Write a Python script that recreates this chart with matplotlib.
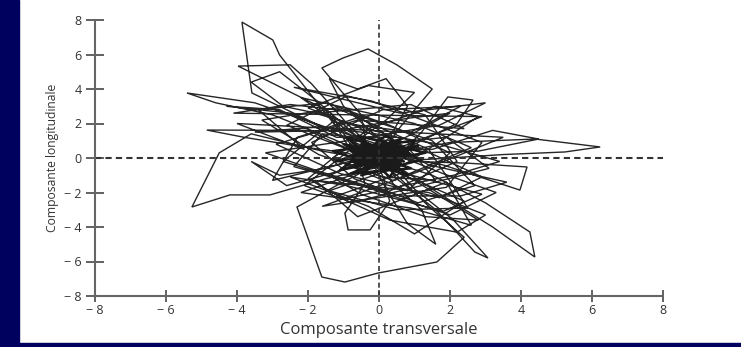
import numpy as np
import matplotlib.pyplot as plt
from matplotlib.patches import Rectangle

# trajectoire du centre de pression (composante transversale, longitudinale)
# grandes excursions
path_xy = [
    (0.0, 0.1), (-0.3, 0.4), (0.2, -0.2), (-0.1, 0.5), (0.3, 0.2), (-0.4, -0.1), (0.1, 0.3),
    (-1.2, 1.8), (-2.8, 5.97), (-2.99, 6.84), (-3.86, 7.88), (-3.58, 3.77), (-2.2, 2.4), (-0.8, 1.0),
    (-0.2, 0.2), (0.4, -0.3), (-0.5, 0.1), (0.2, 0.6), (-0.3, -0.4), (0.5, 0.3),
    (2.0, 0.9), (4.4, 1.1), (6.23, 0.64), (5.24, 0.35), (3.5, 0.2), (1.2, -0.1),
    (0.3, 0.4), (-0.4, 0.0), (0.1, -0.5), (-0.2, 0.3), (0.6, 0.1), (-0.6, -0.2),
    (-1.5, 2.8), (-3.97, 5.33), (-2.5, 5.4), (-1.9, 4.3), (-0.9, 2.0),
    (-0.1, 0.4), (0.3, -0.1), (-0.5, 0.5), (0.0, -0.3), (0.4, 0.5),
    (-1.8, 2.0), (-3.5, 3.2), (-5.41, 3.77), (-4.6, 3.2), (-3.0, 2.5), (-1.3, 1.1),
    (-0.4, 0.3), (0.2, 0.0), (-0.3, -0.3), (0.5, 0.4), (-0.1, 0.1), (0.3, -0.4),
    (-1.5, -1.2), (-3.07, -2.14), (-4.2, -2.14), (-5.27, -2.84), (-4.5, 0.3), (-3.6, 1.4), (-1.6, 0.4),
    (-0.5, 0.0), (0.1, 0.5), (-0.2, -0.2), (0.4, 0.2), (-0.6, 0.4), (0.2, -0.1),
    (-1.2, -1.6), (-2.31, -2.84), (-1.61, -6.9), (-0.96, -7.19), (-0.03, -6.67), (1.63, -6.03),
    (2.4, -4.6), (1.4, -2.8), (0.5, -1.0),
    (0.0, -0.2), (-0.4, 0.3), (0.3, 0.1), (-0.2, 0.5), (0.5, -0.3), (-0.3, 0.0),
    (-0.5, 2.5), (-1.61, 5.22), (-1.01, 5.8), (-0.31, 6.32), (0.51, 5.39), (1.5, 4.0), (0.6, 1.8),
    (0.1, 0.3), (-0.4, -0.2), (0.3, 0.5), (-0.1, -0.4), (0.4, 0.0), (-0.5, 0.3),
    (1.5, -1.0), (3.0, -2.6), (4.25, -4.29), (4.39, -5.74), (3.2, -4.0), (1.8, -2.2), (0.6, -0.6),
    (-0.2, 0.1), (0.3, 0.4), (-0.5, -0.1), (0.1, 0.2), (-0.3, 0.5), (0.4, -0.2),
    (1.2, 1.5), (1.94, 3.54), (2.65, 3.36), (2.2, 2.0), (1.0, 0.8),
    (0.2, 0.0), (-0.4, 0.4), (0.0, -0.3), (0.5, 0.3), (-0.2, -0.1),
    (-2.0, 1.6), (-4.85, 1.62), (-3.8, 1.2), (-2.0, 0.6), (-0.9, 0.3),
    (-0.3, -0.2), (0.2, 0.4), (-0.5, 0.2), (0.3, -0.3), (-0.1, 0.6), (0.4, 0.1),
    (1.8, -0.4), (3.97, -1.86), (4.17, -0.52), (2.5, -0.3), (1.0, -0.2),
    (0.1, 0.3), (-0.4, -0.3), (0.3, 0.2), (-0.2, 0.5), (0.5, -0.1), (-0.6, 0.1),
    (-0.4, -1.5), (-0.96, -3.19), (-0.87, -4.17), (-0.25, -4.17), (0.3, -2.5), (0.1, -1.0),
    (-0.3, 0.2), (0.4, 0.4), (-0.2, -0.3), (0.2, 0.3), (-0.5, 0.0), (0.3, -0.2),
    (1.0, -1.8), (2.1, -3.6), (3.07, -5.8), (2.7, -5.45), (1.6, -3.0), (0.5, -1.2),
    (0.0, 0.2), (-0.4, 0.5), (0.3, -0.1), (-0.2, 0.0), (0.4, 0.4), (-0.5, -0.2),
    (-1.3, 2.4), (-2.7, 3.0), (-3.6, 4.4), (-2.8, 5.0), (-1.8, 3.4), (-0.7, 1.4),
    (-0.1, 0.3), (0.3, 0.0), (-0.4, 0.2), (0.2, -0.4), (-0.2, 0.4), (0.5, 0.2),
    (-1.0, 3.0), (-1.4, 4.6), (-0.6, 4.0), (0.2, 4.6), (0.8, 3.0), (0.3, 1.2),
    (-0.2, 0.1), (0.4, -0.3), (-0.5, 0.4), (0.1, 0.0), (-0.3, -0.2), (0.3, 0.5),
    (-1.5, -0.6), (-2.8, -1.0), (-3.6, -0.2), (-2.6, -1.6), (-1.2, -0.8),
    (-0.3, 0.0), (0.2, 0.3), (-0.4, -0.1), (0.4, 0.2), (-0.1, -0.4), (0.1, 0.5),
    (1.5, 0.5), (3.2, 1.6), (4.5, 1.1), (2.8, 0.4), (1.2, 0.3),
    (0.3, -0.1), (-0.3, 0.3), (0.1, -0.3), (-0.5, 0.1), (0.2, 0.4), (-0.2, -0.2),
    (0.2, -1.8), (0.8, -3.8), (1.6, -5.0), (1.2, -3.0), (0.4, -1.5),
    (-0.1, 0.0), (0.3, 0.3), (-0.4, 0.4), (0.0, -0.2), (-0.3, 0.2), (0.4, -0.1),
    (-2.5, 2.6), (-4.3, 3.0), (-2.8, 2.8), (-1.2, 1.2),
]

# errance dans la zone intermédiaire
web_xy = [
    (0.5, 1.2), (-1.8, 2.6), (0.9, 3.1), (2.4, 1.7), (-0.6, 2.2), (-2.9, 0.8), (-1.1, -0.9),
    (1.7, -2.3), (2.9, -1.1), (0.8, 0.9), (-1.6, 1.4), (-2.4, -0.5), (0.2, -2.0), (2.2, -0.2),
    (1.3, 2.5), (-0.9, 3.6), (-2.6, 1.9), (-1.0, 0.6), (1.9, 1.2), (3.1, -0.6), (1.2, -1.6),
    (-0.8, -2.6), (-2.0, -1.2), (-0.3, 1.7), (1.6, 3.0), (2.8, 2.4), (0.7, -0.4), (-1.4, -1.9),
    (0.5, -3.0), (2.5, -2.9), (1.4, 0.5), (-1.2, 2.9), (-3.3, 2.2), (-1.7, 0.2), (0.4, -1.3),
    (2.6, 0.6), (1.0, 2.0), (-2.2, 3.5), (-0.4, 0.9), (1.8, -0.9), (3.3, -2.0), (2.0, -3.3),
    (-0.2, -1.8), (-2.7, -0.2), (-1.3, 2.1), (0.9, 1.5), (2.3, 3.0), (0.1, 2.8), (-1.9, 0.9),
    (-0.7, -1.2), (1.1, -2.6), (2.7, -1.6), (1.5, 1.0), (-0.5, 2.4), (-2.3, 1.2), (-3.0, -1.3),
    (-1.0, -0.3), (0.8, -1.9), (2.0, 0.3), (0.3, 1.9), (-1.5, 3.2), (-3.4, 2.8), (-2.1, 0.5),
    (-4.0, 2.0), (3.5, 1.2), (1.1, -0.8), (-1.6, -2.8), (1.9, -1.7), (2.9, 0.9), (-0.2, 3.3),
    (-2.4, 4.1), (0.6, 2.6), (3.0, 3.2), (1.7, 1.9), (-0.9, 1.0), (-3.2, 0.3), (-1.8, -0.7),
    (0.6, -2.2), (2.3, -2.2), (3.6, -1.4), (1.4, -0.4), (-0.6, 1.8), (-2.0, 2.9), (-0.3, 4.2),
    (1.0, 3.8), (0.2, 2.2), (-1.3, 0.0), (0.1, -1.1), (1.6, -1.3), (0.9, 0.4), (-0.8, 2.7),
    (-2.5, 3.1), (-4.1, 2.6), (2.9, 2.4), (1.2, 1.1), (-1.4, -1.0), (-0.5, -2.1), (1.3, -3.4),
    (2.8, -3.6), (1.0, -1.3), (-0.8, 0.5), (-2.1, -1.6), (-1.0, -2.4), (0.7, -1.6), (2.1, -1.0),
    (3.4, -0.2), (1.7, 0.8), (-0.1, 1.4), (-1.7, 1.8), (-3.5, 1.5), (-1.1, 1.6), (0.8, 2.3),
    (2.0, 2.6), (0.4, 0.8),
]

# partie basse
lower_xy = [
    (-0.5, -0.8), (-2.2, -2.0), (0.9, -2.9), (2.6, -3.9), (1.9, -1.4), (-0.6, -3.4), (-1.8, -1.3),
    (1.4, -2.0), (3.0, -3.3), (2.2, -4.3), (0.3, -3.6), (-1.2, -2.2), (0.6, -0.9), (2.4, -2.5),
    (1.0, -4.4), (-0.3, -2.8), (-2.5, -1.1), (-0.9, -1.6), (1.8, -3.1), (2.9, -2.1), (0.2, -0.6),
]

# amas central
core_xy = [
    (-0.1, 0.2), (0.2, -0.1), (-0.3, 0.4), (0.1, 0.5), (-0.4, 0.0), (0.3, 0.3), (-0.2, -0.3),
    (0.4, 0.1), (-0.5, 0.3), (0.0, -0.1), (0.2, 0.6), (-0.3, -0.1), (0.3, -0.3), (-0.1, 0.4),
    (-0.6, 0.1), (0.1, 0.0), (0.4, 0.4), (-0.2, 0.6), (-0.4, -0.3), (0.2, 0.2), (-0.1, -0.4),
    (0.3, 0.5), (-0.5, 0.5), (0.0, 0.3), (0.5, -0.1), (-0.3, 0.2), (0.1, -0.3), (-0.2, 0.0),
    (0.3, 0.1), (-0.6, -0.1), (-0.1, 0.6), (0.4, -0.2), (-0.4, 0.4), (0.2, 0.3), (-0.2, -0.2),
    (0.0, 0.5), (0.5, 0.3), (-0.5, 0.0), (0.1, 0.1), (-0.3, 0.5), (0.3, -0.1), (-0.1, -0.2),
    (0.2, 0.4), (-0.4, 0.2), (0.0, 0.0), (0.4, 0.5), (-0.2, 0.3), (0.1, -0.4), (-0.5, -0.2),
    (0.3, 0.2), (-0.7, 0.3), (0.6, 0.2), (-0.1, 0.7), (0.2, -0.5), (-0.6, 0.5), (0.5, -0.4),
    (-0.3, -0.5), (0.4, 0.7), (-0.8, 0.0), (0.7, 0.0), (-1.0, 0.8), (0.9, -0.6), (-0.8, -0.9),
    (1.1, 0.7), (-1.2, -0.2), (0.6, 1.1), (-0.5, -1.0), (1.2, -0.1), (-0.9, 1.2), (0.3, -1.1),
    (1.0, 1.0), (-1.3, 0.4), (0.8, -1.0), (-0.6, 1.3), (1.3, 0.3), (-1.1, -0.7), (0.2, 1.3),
    (0.9, 0.2), (-0.7, -0.4), (-0.2, 0.1), (0.1, 0.4), (-0.4, -0.1), (0.3, 0.0), (-0.1, 0.3),
    (0.2, -0.2), (-0.3, 0.1), (0.0, 0.4), (-0.2, 0.2),
    (-0.7, 0.6), (0.5, 0.7), (-0.6, -0.4), (0.6, -0.3), (-0.8, 0.4), (0.3, 0.8), (-0.4, -0.6),
    (0.7, 0.4), (-0.5, 0.8), (0.4, -0.5), (-0.8, -0.2), (0.1, 0.8), (0.6, 0.6), (-0.7, -0.1),
    (0.2, -0.6), (-0.3, 0.7), (0.7, -0.2), (-0.6, 0.2), (0.5, 0.0), (-0.2, -0.5), (0.0, 0.7),
    (-0.7, 0.0), (0.4, 0.3), (-0.4, 0.6), (0.6, -0.1), (-0.5, -0.4), (0.2, 0.5), (-0.1, -0.3),
    (0.3, 0.6), (-0.6, 0.3), (0.5, -0.2), (-0.3, -0.1), (0.1, 0.6), (-0.5, 0.1), (0.4, 0.2),
    (-0.2, 0.5), (0.0, -0.2), (-0.4, 0.3), (0.3, -0.4), (-0.1, 0.1),
]

pts = np.array(path_xy + web_xy + lower_xy + core_xy)
core = np.array(core_xy)

ticks = [-8, -6, -4, -2, 0, 2, 4, 6, 8]
tick_labels = ['− %d' % -t if t < 0 else str(t) for t in ticks]

plt.rcParams['font.family'] = ['Open Sans', 'DejaVu Sans']

fig = plt.figure(figsize=(7.41, 3.47), dpi=100)
fig.patches.append(Rectangle((0, 0), 19 / 741, 1, transform=fig.transFigure,
                             color='#00005e', zorder=0))
fig.patches.append(Rectangle((0, 0), 1, 4 / 347, transform=fig.transFigure,
                             color='#00005e', zorder=0))

ax = fig.add_axes([95 / 741, 1 - 296 / 347, 568 / 741, 276 / 347])
ax.plot(pts[:, 0], pts[:, 1], color='#262626', lw=1.0, solid_joinstyle='miter')
# l'amas central apparaît plein sur la figure
ax.plot(core[:, 0], core[:, 1], color='#1a1a1a', lw=1.8)
ax.plot([-8, 8], [0, 0], color='#333333', lw=1.5, ls=(0, (3, 2)))
ax.plot([0, 0], [-8, 8], color='#333333', lw=1.2, ls=(0, (3, 2)))

ax.set_xlim(-8, 8)
ax.set_ylim(-8, 8)
ax.set_xticks(ticks)
ax.set_yticks(ticks)
ax.set_xticklabels(tick_labels, fontsize=9, color='#333333')
ax.set_yticklabels(tick_labels, fontsize=9, color='#333333')
ax.tick_params(axis='x', direction='inout', length=8, width=1.3, color='#555555', pad=2)
ax.tick_params(axis='y', direction='inout', length=13, width=1.3, color='#555555', pad=3)
for s in ['top', 'right']:
    ax.spines[s].set_visible(False)
for s in ['left', 'bottom']:
    ax.spines[s].set_color('#666666')
    ax.spines[s].set_linewidth(1.5)

ax.set_xlabel('Composante transversale', fontsize=12, color='#333333', labelpad=3)
ax.set_ylabel('Composante longitudinale', fontsize=8.7, color='#333333', labelpad=4)

fig.savefig('out.png', dpi=100)
